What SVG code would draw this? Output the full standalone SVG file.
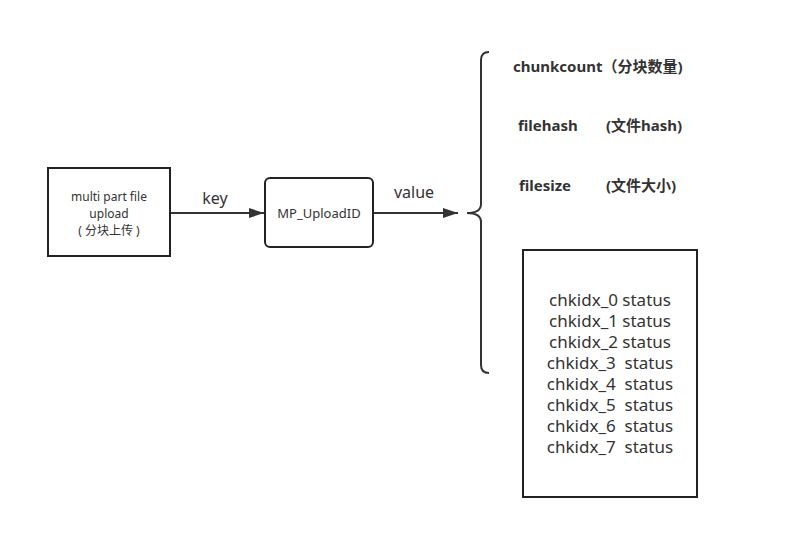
<svg xmlns="http://www.w3.org/2000/svg" width="792" height="560" viewBox="0 0 792 560">
<defs>
<style>
text{font-family:"Noto Sans","Noto Sans CJK SC",sans-serif;fill:#333;white-space:pre}
.s{font-size:12px}
.u{font-size:13px}
.m{font-size:16px}
.c{font-size:17px}
.b{font-size:15px;font-weight:bold}
.box{fill:#fff;stroke:#222;stroke-width:2}
.ln{fill:none;stroke:#333;stroke-width:2}
</style>
<marker id="ah" markerWidth="16" markerHeight="12" refX="15" refY="6" orient="auto" markerUnits="userSpaceOnUse">
<path d="M0,1 L15,6 L0,11 Z" fill="#333"/>
</marker>
</defs>
<rect width="792" height="560" fill="#fff"/>
<g id="connectors">
<line class="ln" x1="170" y1="213" x2="264" y2="213" marker-end="url(#ah)"/>
<text class="m" x="215" y="204" text-anchor="middle">key</text>
<line class="ln" x1="373" y1="213" x2="458" y2="213" marker-end="url(#ah)"/>
<text class="m" x="414" y="198" text-anchor="middle">value</text>
</g>
<g id="upload">
<rect class="box" x="48" y="168" width="122" height="88"/>
<text class="s" x="109" y="201" text-anchor="middle">multi part file</text>
<text class="s" x="109" y="218" text-anchor="middle">upload</text>
<text class="s" x="109" y="235" text-anchor="middle">( 分块上传 )</text>
</g>
<g id="uploadid">
<rect class="box" x="265" y="178" width="108" height="69" rx="5"/>
<text class="u" x="319" y="218" text-anchor="middle">MP_UploadID</text>
</g>
<g id="brace">
<path class="ln" d="M489,52 Q481,52 481,60 L481,204 Q481,213 467,213 Q481,213 481,222 L481,365 Q481,373 489,373"/>
</g>
<g id="fields">
<text class="b" x="513" y="72">chunkcount（分块数量)</text>
<text class="b" x="518" y="131">filehash</text>
<text class="b" x="606" y="131">(文件hash)</text>
<text class="b" x="519" y="191">filesize</text>
<text class="b" x="606" y="191">(文件大小)</text>
</g>
<g id="chunks">
<rect class="box" x="523" y="250" width="174" height="247"/>
<g class="c" text-anchor="middle">
<text x="610" y="306">chkidx_0 status</text>
<text x="610" y="327">chkidx_1 status</text>
<text x="610" y="348">chkidx_2 status</text>
<text x="610" y="369">chkidx_3  status</text>
<text x="610" y="390">chkidx_4  status</text>
<text x="610" y="411">chkidx_5  status</text>
<text x="610" y="432">chkidx_6  status</text>
<text x="610" y="453">chkidx_7  status</text>
</g>
</g>
</svg>
